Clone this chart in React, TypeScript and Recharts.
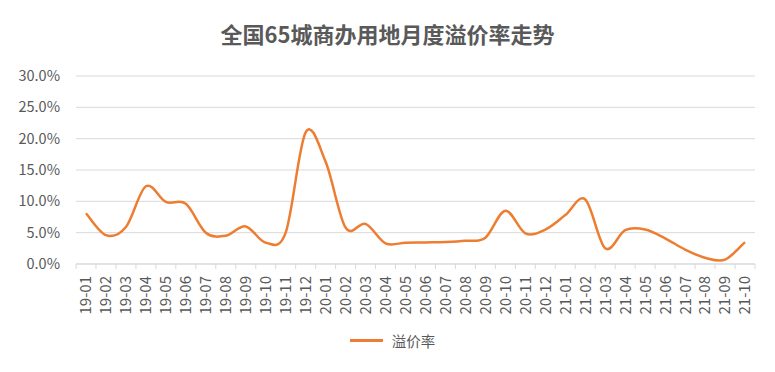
import { LineChart, Line, XAxis, YAxis, CartesianGrid, Legend } from "recharts"

if (typeof document !== "undefined") document.body.style.margin = "0"

const months = [
  "19-01", "19-02", "19-03", "19-04", "19-05", "19-06", "19-07", "19-08", "19-09", "19-10", "19-11", "19-12",
  "20-01", "20-02", "20-03", "20-04", "20-05", "20-06", "20-07", "20-08", "20-09", "20-10", "20-11", "20-12",
  "21-01", "21-02", "21-03", "21-04", "21-05", "21-06", "21-07", "21-08", "21-09", "21-10",
]

// 溢价率 (%)
const premiumRate = [
  8.1, 4.6, 5.9, 12.4, 9.9, 9.6, 5.0, 4.5, 6.0, 3.4, 5.0, 21.0,
  16.3, 5.8, 6.4, 3.3, 3.4, 3.45, 3.5, 3.7, 4.2, 8.5, 4.9, 5.5,
  7.8, 10.3, 2.5, 5.4, 5.5, 4.1, 2.3, 1.0, 0.7, 3.5,
]

const yTicks = [0, 5, 10, 15, 20, 25, 30]

const data = months.map((m, i) => ({ month: m, rate: premiumRate[i] }))

const W = 775
const H = 372
const plotLeft = 76
const plotRight = 20
const band = (W - plotLeft - plotRight) / months.length

// excel-style smoothed line (catmull-rom through every point)
function smoothCurve(context: any) {
  let pts: number[][] = []
  return {
    areaStart() {},
    areaEnd() {},
    lineStart() { pts = [] },
    point(x: number, y: number) { pts.push([+x, +y]) },
    lineEnd() {
      if (!pts.length) return
      context.moveTo(pts[0][0], pts[0][1])
      for (let i = 0; i < pts.length - 1; i++) {
        const p0 = pts[i - 1] || pts[i]
        const p1 = pts[i]
        const p2 = pts[i + 1]
        const p3 = pts[i + 2] || p2
        context.bezierCurveTo(
          p1[0] + (p2[0] - p0[0]) / 6, p1[1] + (p2[1] - p0[1]) / 6,
          p2[0] - (p3[0] - p1[0]) / 6, p2[1] - (p3[1] - p1[1]) / 6,
          p2[0], p2[1],
        )
      }
    },
  }
}

const MonthTick = (props: any) => {
  const { x, y, payload, index } = props
  const last = index === months.length - 1
  return (
    <g>
      <line x1={x - band / 2} y1={y} x2={x - band / 2} y2={y + 5} stroke="#d9d9d9" />
      {last && <line x1={x + band / 2} y1={y} x2={x + band / 2} y2={y + 5} stroke="#d9d9d9" />}
      <text
        transform={`translate(${x},${y + 12}) rotate(-90)`}
        textAnchor="end"
        dy="0.36em"
        fill="#595959"
        fontSize={15}
      >
        {payload.value}
      </text>
    </g>
  )
}

const LegendBox = () => (
  <div style={{ display: "flex", justifyContent: "center", alignItems: "center", paddingLeft: 30, paddingTop: 6 }}>
    <div style={{ width: 33, height: 2.5, background: "#ed7d31", marginRight: 9 }} />
    <span style={{ fontSize: 14.5, color: "#595959" }}>溢价率</span>
  </div>
)

export default function App() {
  return (
    <div style={{ position: "relative", width: W, height: H, background: "#fff", fontFamily: "'Noto Sans CJK SC', sans-serif" }}>
      <div
        style={{
          position: "absolute",
          top: 17,
          left: 0,
          width: W,
          textAlign: "center",
          fontSize: 22,
          fontWeight: 700,
          color: "#595959",
        }}
      >
        全国65城商办用地月度溢价率走势
      </div>
      <LineChart width={W} height={H} data={data} margin={{ top: 76, right: plotRight, bottom: 18, left: 0 }}>
        <CartesianGrid vertical={false} stroke="#d9d9d9" />
        <XAxis
          dataKey="month"
          interval={0}
          tickLine={false}
          tickSize={0}
          tickMargin={0}
          padding={{ left: band / 2, right: band / 2 }}
          axisLine={{ stroke: "#d9d9d9" }}
          height={60}
          tick={<MonthTick />}
        />
        <YAxis
          width={plotLeft}
          domain={[0, 30]}
          ticks={yTicks}
          axisLine={false}
          tickLine={false}
          tickSize={0}
          tickMargin={16}
          tickFormatter={(v: number) => v.toFixed(1) + "%"}
          tick={{ fill: "#595959", fontSize: 14.5 }}
        />
        <Legend verticalAlign="bottom" height={30} content={<LegendBox />} />
        <Line
          dataKey="rate"
          name="溢价率"
          type={smoothCurve as any}
          stroke="#ed7d31"
          strokeWidth={2.5}
          dot={false}
          isAnimationActive={false}
        />
      </LineChart>
    </div>
  )
}
